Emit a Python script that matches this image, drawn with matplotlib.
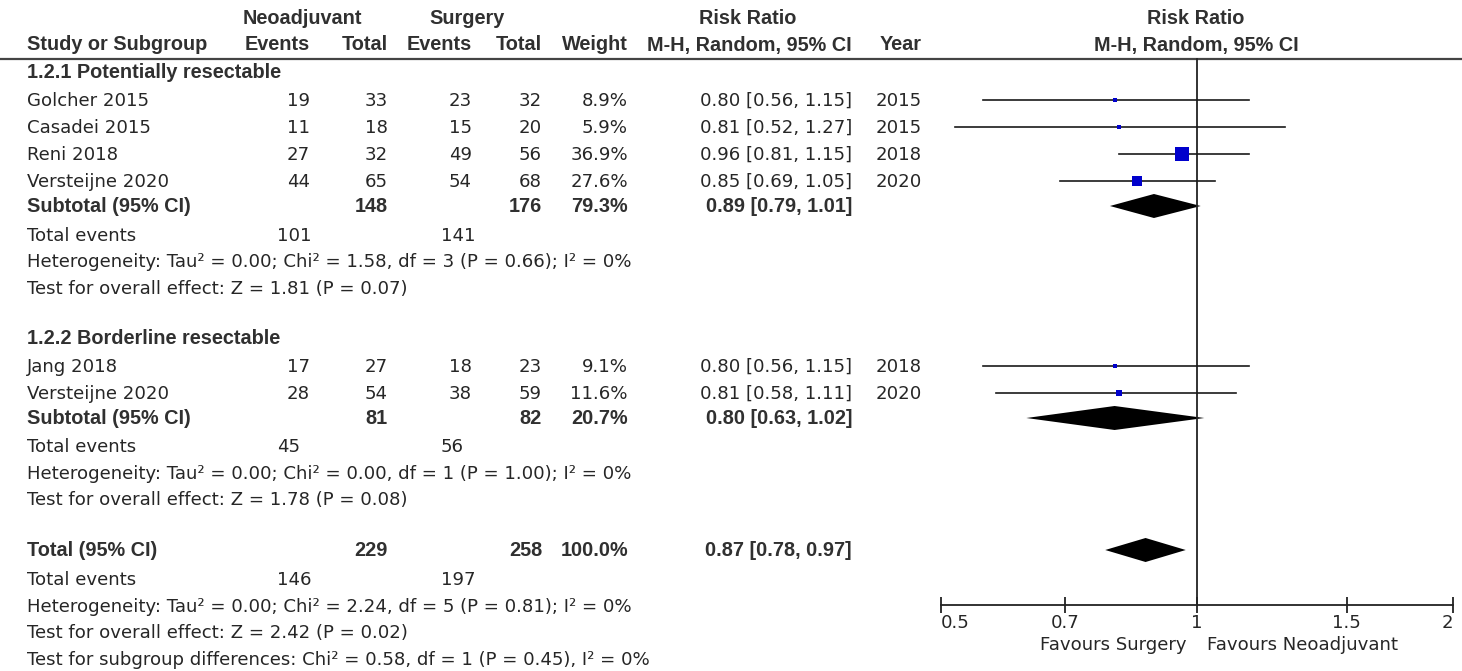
import numpy as np
import matplotlib.pyplot as plt
from matplotlib.patches import Polygon

# study level data
study = ['Golcher 2015', 'Casadei 2015', 'Reni 2018', 'Versteijne 2020', 'Jang 2018', 'Versteijne 2020']
subgroup = [0, 0, 0, 0, 1, 1]
neo_events = [19, 11, 27, 44, 17, 28]
neo_total = [33, 18, 32, 65, 27, 54]
surg_events = [23, 15, 49, 54, 18, 38]
surg_total = [32, 20, 56, 68, 23, 59]
weight = [8.9, 5.9, 36.9, 27.6, 9.1, 11.6]
rr = [0.80, 0.81, 0.96, 0.85, 0.80, 0.81]
ci_lo = [0.56, 0.52, 0.81, 0.69, 0.56, 0.58]
ci_hi = [1.15, 1.27, 1.15, 1.05, 1.15, 1.11]
year = [2015, 2015, 2018, 2020, 2018, 2020]

# subgroup summaries
sub_names = ['1.2.1 Potentially resectable', '1.2.2 Borderline resectable']
sub_neo_total = [148, 81]
sub_surg_total = [176, 82]
sub_neo_events = [101, 45]
sub_surg_events = [141, 56]
sub_weight = [79.3, 20.7]
sub_rr = [0.89, 0.80]
sub_lo = [0.79, 0.63]
sub_hi = [1.01, 1.02]
sub_het = ['Heterogeneity: Tau\u00b2 = 0.00; Chi\u00b2 = 1.58, df = 3 (P = 0.66); I\u00b2 = 0%',
           'Heterogeneity: Tau\u00b2 = 0.00; Chi\u00b2 = 0.00, df = 1 (P = 1.00); I\u00b2 = 0%']
sub_z = ['Test for overall effect: Z = 1.81 (P = 0.07)',
         'Test for overall effect: Z = 1.78 (P = 0.08)']

# overall
tot_neo_total, tot_surg_total = 229, 258
tot_neo_events, tot_surg_events = 146, 197
tot_weight = 100.0
tot_rr, tot_lo, tot_hi = 0.87, 0.78, 0.97
tot_het = 'Heterogeneity: Tau\u00b2 = 0.00; Chi\u00b2 = 2.24, df = 5 (P = 0.81); I\u00b2 = 0%'
tot_z = 'Test for overall effect: Z = 2.42 (P = 0.02)'
sub_diff = 'Test for subgroup differences: Chi\u00b2 = 0.58, df = 1 (P = 0.45), I\u00b2 = 0%'

ticks = [0.5, 0.7, 1, 1.5, 2]
tick_labels = ['0.5', '0.7', '1', '1.5', '2']

# page layout (pixels)
W, H = 1462, 671
study_y = [100, 127, 154, 181, 366, 393]
sub_hdr_y = [73, 339]
sub_tot_y = [206, 418]
sub_ev_y = [236, 447]
sub_het_y = [262, 474]
sub_z_y = [289, 500]
tot_y, tot_ev_y, tot_het_y, tot_z_y, diff_y = 550, 580, 607, 633, 660
line_y, axis_y = 59, 605
x_name = 27
x_ne, x_nt, x_se, x_st, x_w, x_rr, x_yr = 310, 388, 472, 542, 628, 852, 922
x_ev1, x_ev2 = 277, 441

txt = '#262626'
reg = dict(family='DejaVu Sans', size=13.1, color=txt, va='center')
bold = dict(family='Liberation Sans', weight='bold', size=14.3, color='#303030', va='center')

fig = plt.figure(figsize=(W / 100, H / 100), dpi=100)
bg = fig.add_axes([0, 0, 1, 1])
bg.set_xlim(0, W)
bg.set_ylim(H, 0)
bg.axis('off')

# column headers
bg.text(302, 18, 'Neoadjuvant', ha='center', **bold)
bg.text(467, 18, 'Surgery', ha='center', **bold)
bg.text(748, 18, 'Risk Ratio', ha='center', **bold)
bg.text(1196, 18, 'Risk Ratio', ha='center', **bold)
bg.text(x_name, 45, 'Study or Subgroup', ha='left', **bold)
for x, s in [(x_ne, 'Events'), (x_nt, 'Total'), (x_se, 'Events'), (x_st, 'Total'),
             (x_w, 'Weight'), (x_rr, 'M-H, Random, 95% CI'), (x_yr, 'Year')]:
    bg.text(x, 45, s, ha='right', **bold)
bg.text(1196, 45, 'M-H, Random, 95% CI', ha='center', **bold)
bg.plot([0, W], [line_y, line_y], color='#444444', lw=1.6)

# study rows
for i in range(len(study)):
    y = study_y[i] + 1
    bg.text(x_name, y, study[i], ha='left', **reg)
    bg.text(x_ne, y, str(neo_events[i]), ha='right', **reg)
    bg.text(x_nt, y, str(neo_total[i]), ha='right', **reg)
    bg.text(x_se, y, str(surg_events[i]), ha='right', **reg)
    bg.text(x_st, y, str(surg_total[i]), ha='right', **reg)
    bg.text(x_w, y, f'{weight[i]:.1f}%', ha='right', **reg)
    bg.text(x_rr, y, f'{rr[i]:.2f} [{ci_lo[i]:.2f}, {ci_hi[i]:.2f}]', ha='right', **reg)
    bg.text(x_yr, y, str(year[i]), ha='right', **reg)

# subgroup blocks
for g in range(2):
    bg.text(x_name, sub_hdr_y[g], sub_names[g], ha='left', **bold)
    y = sub_tot_y[g]
    bg.text(x_name, y, 'Subtotal (95% CI)', ha='left', **bold)
    bg.text(x_nt, y, str(sub_neo_total[g]), ha='right', **bold)
    bg.text(x_st, y, str(sub_surg_total[g]), ha='right', **bold)
    bg.text(x_w, y, f'{sub_weight[g]:.1f}%', ha='right', **bold)
    bg.text(x_rr, y, f'{sub_rr[g]:.2f} [{sub_lo[g]:.2f}, {sub_hi[g]:.2f}]', ha='right', **bold)
    bg.text(x_name, sub_ev_y[g], 'Total events', ha='left', **reg)
    bg.text(x_ev1, sub_ev_y[g], str(sub_neo_events[g]), ha='left', **reg)
    bg.text(x_ev2, sub_ev_y[g], str(sub_surg_events[g]), ha='left', **reg)
    bg.text(x_name, sub_het_y[g], sub_het[g], ha='left', **reg)
    bg.text(x_name, sub_z_y[g], sub_z[g], ha='left', **reg)

# overall block
bg.text(x_name, tot_y, 'Total (95% CI)', ha='left', **bold)
bg.text(x_nt, tot_y, str(tot_neo_total), ha='right', **bold)
bg.text(x_st, tot_y, str(tot_surg_total), ha='right', **bold)
bg.text(x_w, tot_y, f'{tot_weight:.1f}%', ha='right', **bold)
bg.text(x_rr, tot_y, f'{tot_rr:.2f} [{tot_lo:.2f}, {tot_hi:.2f}]', ha='right', **bold)
bg.text(x_name, tot_ev_y, 'Total events', ha='left', **reg)
bg.text(x_ev1, tot_ev_y, str(tot_neo_events), ha='left', **reg)
bg.text(x_ev2, tot_ev_y, str(tot_surg_events), ha='left', **reg)
bg.text(x_name, tot_het_y, tot_het, ha='left', **reg)
bg.text(x_name, tot_z_y, tot_z, ha='left', **reg)
bg.text(x_name, diff_y, sub_diff, ha='left', **reg)

# forest panel on a log axis
ax = fig.add_axes([941 / W, 0, 512 / W, 1])
ax.patch.set_alpha(0)
ax.set_xscale('log')
ax.set_xlim(0.5, 2)
ax.set_ylim(H, 0)
for s in ['left', 'right', 'top']:
    ax.spines[s].set_visible(False)
ax.spines['bottom'].set_position(('data', axis_y))
ax.spines['bottom'].set_linewidth(1.3)
ax.spines['bottom'].set_color('#222222')
ax.yaxis.set_visible(False)
ax.set_xticks(ticks)
ax.set_xticklabels(tick_labels)
ax.xaxis.set_minor_locator(plt.NullLocator())
ax.tick_params(axis='x', direction='inout', length=11, width=1.3, color='#222222',
               pad=1, labelsize=13.1, labelcolor=txt)
for lab in ax.get_xticklabels():
    lab.set_fontfamily('DejaVu Sans')
ax.get_xticklabels()[0].set_ha('left')
ax.get_xticklabels()[-1].set_ha('right')

ax.plot([1, 1], [line_y, axis_y], color='#222222', lw=1.3)

for i in range(len(study)):
    y = study_y[i]
    ax.plot([ci_lo[i], ci_hi[i]], [y, y], color='#1a1a1a', lw=1.2)
    side = max(4.5, 2 + 0.31 * weight[i])
    ax.plot(rr[i], y, marker='s', ms=side * 0.72, color='#0000cc', mec='#0000cc', mew=0)


def diamond(est, lo, hi, y, h=12):
    ax.add_patch(Polygon([(lo, y), (est, y - h), (hi, y), (est, y + h)],
                         closed=True, color='black', lw=0))


for g in range(2):
    diamond(sub_rr[g], sub_lo[g], sub_hi[g], sub_tot_y[g])
diamond(tot_rr, tot_lo, tot_hi, tot_y)

bg.text(1187, 645, 'Favours Surgery', ha='right', **reg)
bg.text(1207, 645, 'Favours Neoadjuvant', ha='left', **reg)

fig.savefig('out.png', dpi=100)
